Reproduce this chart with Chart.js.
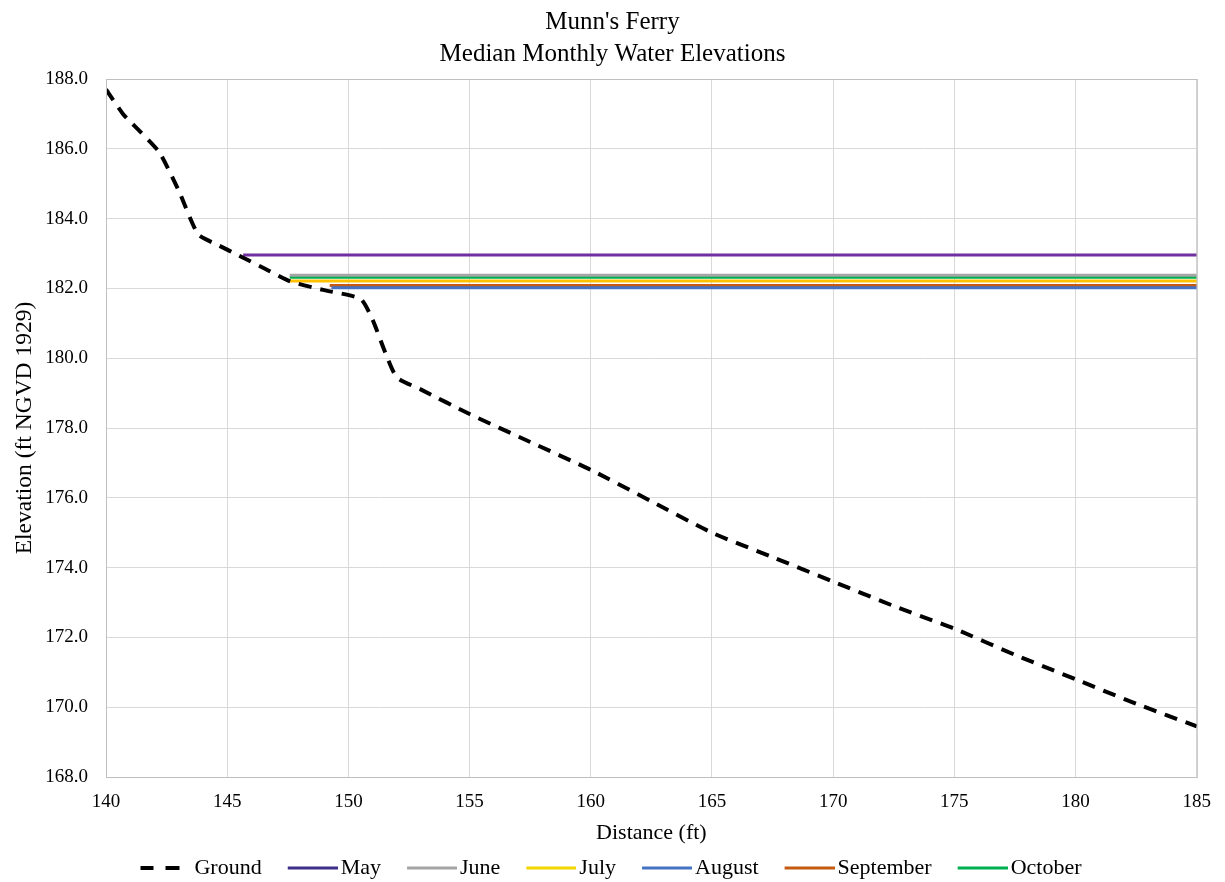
<!DOCTYPE html>
<html>
<head>
<meta charset="utf-8">
<script src="https://cdn.jsdelivr.net/npm/chart.js@4/dist/chart.umd.min.js"></script>
<style>
  html, body { margin: 0; padding: 0; background: #fff; }
  #wrap { width: 1225px; height: 882px; }
</style>
</head>
<body>
<div id="wrap"><canvas id="munns-ferry"></canvas></div>
<script>
const ctx = document.getElementById('munns-ferry');

// ground profile (distance ft, elevation ft NGVD 1929)
const groundDist = [140, 140.7, 141.4, 142.2, 143.0, 143.8, 144.6, 145.6, 146.6, 147.6, 149.0, 150.5, 151.0, 151.5, 152.0, 153.0, 155.0, 157.5, 160.0, 162.5, 165.0, 167.5, 170.0, 172.5, 175.0, 177.5, 180.0, 182.5, 185.0];
const groundElev = [187.7, 187.0, 186.5, 185.9, 184.8, 183.55, 183.25, 182.9, 182.55, 182.2, 181.95, 181.7, 181.1, 180.2, 179.45, 179.1, 178.4, 177.6, 176.8, 175.9, 175.0, 174.3, 173.6, 172.9, 172.25, 171.5, 170.8, 170.1, 169.45];

// median monthly water surface: level and the distance where it meets the bank
const months = ['May', 'June', 'July', 'August', 'September', 'October'];
const monthLevel = [182.96, 182.38, 182.21, 182.02, 182.08, 182.32];
const monthStart = [145.66, 147.58, 147.58, 149.3, 149.23, 147.58];
const monthEnd = 185;
const monthColors = ['#7030A0', '#A5A5A5', '#FFC000', '#4472C4', '#C55A11', '#00B050'];
const legendColors = ['#3F2F8C', '#A5A5A5', '#F2D600', '#4472C4', '#C55A11', '#00B050'];

const xTicks = [140, 145, 150, 155, 160, 165, 170, 175, 180, 185];

const serif = "'Liberation Serif', 'Times New Roman', serif";

// little legend swatches, drawn as images so the line sits close to its text
function swatch(color, dashed) {
    const c = document.createElement('canvas')
    c.width = 56
    c.height = 6
    const g = c.getContext('2d')
    g.fillStyle = color
    if (dashed) {
        g.fillRect(5, 1, 13, 4)
        g.fillRect(30, 1, 14, 4)
    } else {
        g.fillRect(6, 1.5, 50, 3)
    }
    return c
}

const datasets = [{
    label: 'Ground',
    data: groundDist.map((d, i) => ({ x: d, y: groundElev[i] })),
    borderColor: '#000000',
    backgroundColor: '#000000',
    borderWidth: 4,
    borderDash: [13, 9],
    pointRadius: 0,
    tension: 0.2,
    order: 0,
    legendIcon: swatch('#000000', true)
}];

months.forEach((m, i) => {
    datasets.push({
        label: m,
        data: [{ x: monthStart[i], y: monthLevel[i] }, { x: monthEnd, y: monthLevel[i] }],
        borderColor: monthColors[i],
        backgroundColor: monthColors[i],
        borderWidth: 3,
        pointRadius: 0,
        order: 1,
        legendIcon: swatch(legendColors[i], false)
    });
});

// plot area frame on all four sides
const plotFrame = {
    id: 'plotFrame',
    afterDraw(chart) {
        const { ctx, chartArea: { left, top, width, height } } = chart
        ctx.save()
        ctx.strokeStyle = '#BFBFBF'
        ctx.lineWidth = 1
        ctx.strokeRect(left + 0.5, top + 0.5, width, height)
        ctx.restore()
    }
}

new Chart(ctx, {
    type: 'line',
    data: { datasets },
    options: {
        responsive: true,
        maintainAspectRatio: false,
        animation: false,
        layout: { padding: { left: 25, right: 25, top: 6, bottom: -7 } },
        plugins: {
            title: {
                display: true,
                text: ["Munn's Ferry", 'Median Monthly Water Elevations'],
                color: '#000',
                font: { family: serif, size: 25, weight: 'normal', lineHeight: 1.28 },
                padding: { top: 0, bottom: 9 }
            },
            legend: {
                position: 'bottom',
                labels: {
                    color: '#000',
                    font: { family: serif, size: 22 },
                    usePointStyle: true,
                    pointStyleWidth: 40,
                    padding: 28,
                    generateLabels: chart => chart.data.datasets.map((ds, i) => ({
                        text: ds.label,
                        datasetIndex: i,
                        pointStyle: ds.legendIcon,
                        fillStyle: ds.borderColor,
                        strokeStyle: ds.borderColor,
                        lineWidth: 0,
                        fontColor: '#000',
                        hidden: false
                    }))
                }
            },
            tooltip: { enabled: false }
        },
        scales: {
            x: {
                type: 'linear',
                min: 140,
                max: 185,
                afterBuildTicks: axis => { axis.ticks = xTicks.map(v => ({ value: v })) },
                afterFit: axis => { axis.height = 52 },
                grid: { color: '#D9D9D9', drawTicks: false },
                border: { color: '#BFBFBF' },
                ticks: { color: '#000', font: { family: serif, size: 19 }, padding: 14 },
                title: {
                    display: true,
                    text: 'Distance (ft)',
                    color: '#000',
                    font: { family: serif, size: 22 },
                    padding: { top: 0, bottom: -17 }
                }
            },
            y: {
                min: 168,
                max: 188,
                afterFit: axis => { axis.width = 81 },
                ticks: {
                    stepSize: 2,
                    color: '#000',
                    font: { family: serif, size: 19 },
                    padding: 18,
                    callback: v => v.toFixed(1)
                },
                grid: { color: '#D9D9D9', drawTicks: false },
                border: { color: '#BFBFBF' },
                title: {
                    display: true,
                    text: 'Elevation (ft NGVD 1929)',
                    color: '#000',
                    font: { family: serif, size: 23.5 },
                    padding: { top: -14, bottom: 0 }
                }
            }
        }
    },
    plugins: [plotFrame]
});
</script>
</body>
</html>
